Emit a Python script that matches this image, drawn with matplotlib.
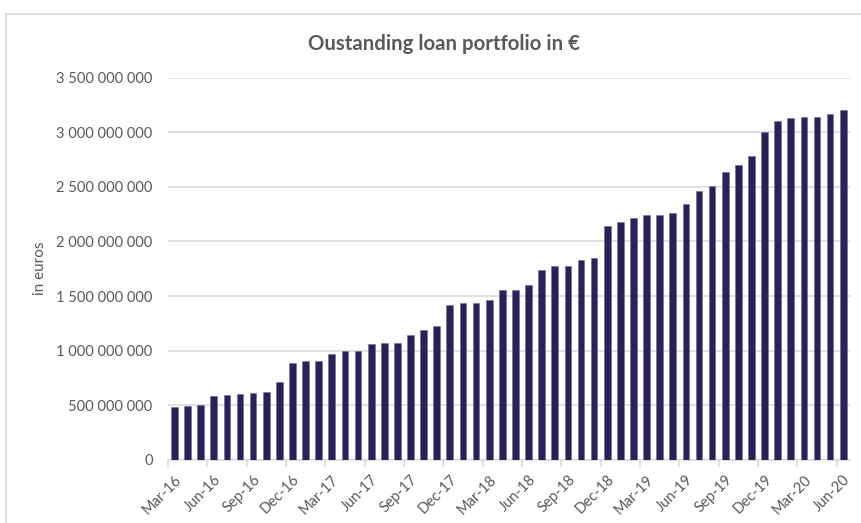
import numpy as np
import matplotlib.pyplot as plt
from matplotlib.patches import Rectangle
from matplotlib.ticker import FuncFormatter

plt.rcParams['font.family'] = ['Lato', 'DejaVu Sans']

months = ["Mar-16", "Apr-16", "May-16", "Jun-16", "Jul-16", "Aug-16", "Sep-16", "Oct-16", "Nov-16", "Dec-16",
          "Jan-17", "Feb-17", "Mar-17", "Apr-17", "May-17", "Jun-17", "Jul-17", "Aug-17", "Sep-17", "Oct-17",
          "Nov-17", "Dec-17", "Jan-18", "Feb-18", "Mar-18", "Apr-18", "May-18", "Jun-18", "Jul-18", "Aug-18",
          "Sep-18", "Oct-18", "Nov-18", "Dec-18", "Jan-19", "Feb-19", "Mar-19", "Apr-19", "May-19", "Jun-19",
          "Jul-19", "Aug-19", "Sep-19", "Oct-19", "Nov-19", "Dec-19", "Jan-20", "Feb-20", "Mar-20", "Apr-20",
          "May-20", "Jun-20"]

# outstanding portfolio, million euros
portfolio_m = [484, 493, 503, 582, 591, 600, 609, 618, 717, 889,
               904, 907, 971, 995, 995, 1060, 1069, 1069, 1142, 1185,
               1225, 1415, 1440, 1440, 1464, 1553, 1553, 1602, 1743, 1777,
               1777, 1826, 1844, 2138, 2181, 2212, 2245, 2245, 2264, 2347,
               2460, 2509, 2635, 2702, 2782, 3002, 3100, 3127, 3137, 3137,
               3168, 3201]

values = np.array(portfolio_m) * 1e6
x = np.arange(len(months))

bar_color = "#27235a"
text_color = "#595959"
grid_color = "#d9d9d9"

fig = plt.figure(figsize=(8.61, 5.23), dpi=100)
ax = fig.add_axes([0.195, 0.1205, 0.792, 0.7313])

# chart frame
fig.patches.append(Rectangle((6 / 861, -0.05), 1.0, 0.973 + 0.05, transform=fig.transFigure,
                             fill=False, edgecolor=grid_color, linewidth=1.2))

ax.bar(x, values, width=0.51, color=bar_color, edgecolor="#6f6b95", linewidth=0.4, zorder=3)

ax.set_xlim(-0.5, len(months) - 0.5)
ax.set_ylim(0, 3.5e9)
ax.set_yticks(np.arange(0, 3.5e9 + 1, 5e8))
ax.yaxis.set_major_formatter(FuncFormatter(lambda v, p: f"{int(v):,}".replace(",", " ")))
ax.grid(axis="y", color=grid_color, linewidth=1.1, zorder=0)
ax.tick_params(axis="y", length=0, pad=11, labelsize=10.5, labelcolor=text_color)

ax.set_xticks(x[::3])
ax.set_xticklabels(months[::3], rotation=45, ha="right", rotation_mode="anchor")
ax.set_xticks(np.arange(-0.5, len(months), 3), minor=True)
ax.tick_params(axis="x", which="major", length=0, pad=9, labelsize=10.5, labelcolor=text_color)
ax.tick_params(axis="x", which="minor", length=5, color=grid_color, width=1.1)

for side in ["top", "right", "left"]:
    ax.spines[side].set_visible(False)
ax.spines["bottom"].set_color(grid_color)
ax.spines["bottom"].set_linewidth(1.1)

ax.set_ylabel("in euros", fontsize=11, color=text_color, labelpad=7)
fig.text(0.516, 0.916, "Oustanding loan portfolio in €", ha="center", va="center",
         fontsize=14.7, color=text_color, fontweight="bold")

fig.savefig("out.png", dpi=100)
